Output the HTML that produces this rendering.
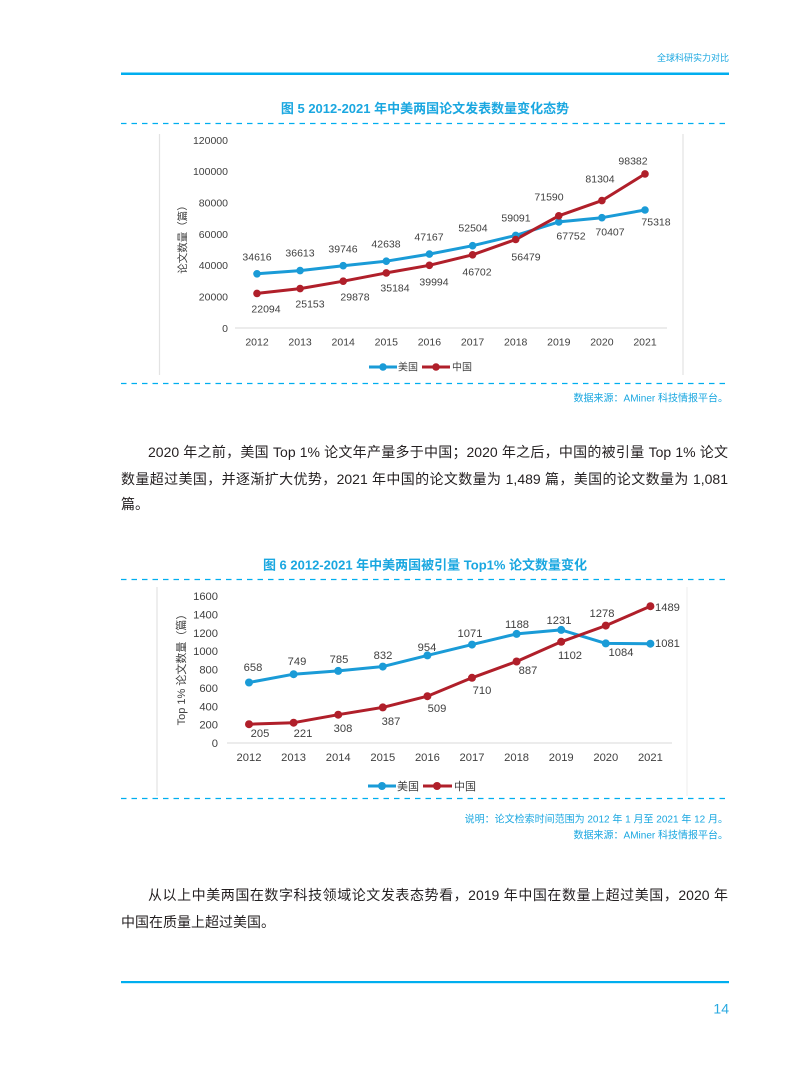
<!DOCTYPE html>
<html><head><meta charset="utf-8">
<style>
html,body{margin:0;padding:0;background:#fff;}
body{width:793px;height:1077px;position:relative;overflow:hidden;font-family:"Liberation Sans","Noto Sans CJK SC",sans-serif;}
.p{position:absolute;left:121px;width:607px;font-size:14px;line-height:27px;color:#231f20;text-align:justify;text-align-last:justify;white-space:nowrap;}
.p.ind{left:148px;width:580px;}
.p.l{text-align:left;text-align-last:left;}
svg{position:absolute;left:0;top:0;}
svg text{font-family:"Liberation Sans","Noto Sans CJK SC",sans-serif;}
</style></head><body>
<svg width="793" height="1077" viewBox="0 0 793 1077">
<!-- header -->
<text x="729" y="61" font-size="9" fill="#1aa7e0" text-anchor="end">全球科研实力对比</text>
<rect x="121" y="72.5" width="608" height="2.5" fill="#00aeef"/>

<!-- ===== Chart 1 ===== -->
<text x="425" y="113" font-size="13" font-weight="bold" fill="#1aa7e0" text-anchor="middle">图 5 2012-2021 年中美两国论文发表数量变化态势</text>
<line x1="121" y1="123.5" x2="729" y2="123.5" stroke="#00aeef" stroke-width="1.3" stroke-dasharray="5.5 5"/>
<line x1="159.5" y1="134" x2="159.5" y2="375" stroke="#e3e3e3" stroke-width="1.2"/>
<line x1="683" y1="134" x2="683" y2="375" stroke="#e3e3e3" stroke-width="1.2"/>
<line x1="235" y1="328" x2="667" y2="328" stroke="#d9d9d9" stroke-width="1"/>
<g font-size="10.5" fill="#404040" text-anchor="end">
<text x="228" y="331.8">0</text>
<text x="228" y="300.5">20000</text>
<text x="228" y="269.1">40000</text>
<text x="228" y="237.8">60000</text>
<text x="228" y="206.5">80000</text>
<text x="228" y="175.1">100000</text>
<text x="228" y="143.8">120000</text>
</g>
<text transform="translate(186,237) rotate(-90)" font-size="10.5" fill="#404040" text-anchor="middle">论文数量（篇）</text>
<g font-size="10.5" fill="#404040" text-anchor="middle">
<text x="257" y="345.7">2012</text>
<text x="300.1" y="345.7">2013</text>
<text x="343.2" y="345.7">2014</text>
<text x="386.3" y="345.7">2015</text>
<text x="429.4" y="345.7">2016</text>
<text x="472.6" y="345.7">2017</text>
<text x="515.7" y="345.7">2018</text>
<text x="558.8" y="345.7">2019</text>
<text x="601.9" y="345.7">2020</text>
<text x="645" y="345.7">2021</text>
</g>
<polyline fill="none" stroke="#1a9bd7" stroke-width="3" stroke-linejoin="round" points="257,273.8 300.1,270.6 343.2,265.7 386.3,261.2 429.4,254.1 472.6,245.7 515.7,235.4 558.8,221.9 601.9,217.7 645,210"/>
<polyline fill="none" stroke="#b01f2a" stroke-width="3" stroke-linejoin="round" points="257,293.4 300.1,288.6 343.2,281.2 386.3,272.9 429.4,265.3 472.6,254.8 515.7,239.5 558.8,215.8 601.9,200.6 645,173.9"/>
<g fill="#1a9bd7">
<circle cx="257" cy="273.8" r="3.8"/><circle cx="300.1" cy="270.6" r="3.8"/><circle cx="343.2" cy="265.7" r="3.8"/><circle cx="386.3" cy="261.2" r="3.8"/><circle cx="429.4" cy="254.1" r="3.8"/><circle cx="472.6" cy="245.7" r="3.8"/><circle cx="515.7" cy="235.4" r="3.8"/><circle cx="558.8" cy="221.9" r="3.8"/><circle cx="601.9" cy="217.7" r="3.8"/><circle cx="645" cy="210" r="3.8"/>
</g>
<g fill="#b01f2a">
<circle cx="257" cy="293.4" r="3.8"/><circle cx="300.1" cy="288.6" r="3.8"/><circle cx="343.2" cy="281.2" r="3.8"/><circle cx="386.3" cy="272.9" r="3.8"/><circle cx="429.4" cy="265.3" r="3.8"/><circle cx="472.6" cy="254.8" r="3.8"/><circle cx="515.7" cy="239.5" r="3.8"/><circle cx="558.8" cy="215.8" r="3.8"/><circle cx="601.9" cy="200.6" r="3.8"/><circle cx="645" cy="173.9" r="3.8"/>
</g>
<g font-size="10.5" fill="#404040" text-anchor="middle">
<text x="257" y="260.7">34616</text>
<text x="300" y="256.7">36613</text>
<text x="343" y="252.7">39746</text>
<text x="386" y="247.7">42638</text>
<text x="429" y="240.7">47167</text>
<text x="473" y="231.7">52504</text>
<text x="516" y="221.7">59091</text>
<text x="571" y="239.7">67752</text>
<text x="610" y="235.7">70407</text>
<text x="656" y="225.7">75318</text>
<text x="266" y="312.7">22094</text>
<text x="310" y="307.7">25153</text>
<text x="355" y="300.7">29878</text>
<text x="395" y="291.7">35184</text>
<text x="434" y="285.7">39994</text>
<text x="477" y="275.7">46702</text>
<text x="526" y="260.7">56479</text>
<text x="549" y="200.7">71590</text>
<text x="600" y="182.7">81304</text>
<text x="633" y="164.7">98382</text>
</g>
<!-- legend 1 -->
<line x1="369" y1="367" x2="397" y2="367" stroke="#1a9bd7" stroke-width="3"/>
<circle cx="383" cy="367" r="3.8" fill="#1a9bd7"/>
<text x="398" y="370.7" font-size="10" fill="#404040">美国</text>
<line x1="422" y1="367" x2="450" y2="367" stroke="#b01f2a" stroke-width="3"/>
<circle cx="436" cy="367" r="3.8" fill="#b01f2a"/>
<text x="452" y="370.7" font-size="10" fill="#404040">中国</text>
<line x1="121" y1="383.5" x2="729" y2="383.5" stroke="#00aeef" stroke-width="1.3" stroke-dasharray="5.5 5"/>
<text x="728" y="401.5" font-size="10" fill="#1aa7e0" text-anchor="end">数据来源：AMiner 科技情报平台。</text>

<!-- ===== Chart 2 ===== -->
<text x="425" y="569.5" font-size="13" font-weight="bold" fill="#1aa7e0" text-anchor="middle">图 6 2012-2021 年中美两国被引量 Top1% 论文数量变化</text>
<line x1="121" y1="579.5" x2="729" y2="579.5" stroke="#00aeef" stroke-width="1.3" stroke-dasharray="5.5 5"/>
<line x1="157" y1="587" x2="157" y2="796" stroke="#e3e3e3" stroke-width="1.2"/>
<line x1="687" y1="587" x2="687" y2="796" stroke="#ececec" stroke-width="1"/>
<line x1="227" y1="743" x2="672" y2="743" stroke="#d9d9d9" stroke-width="1"/>
<g font-size="11.2" fill="#404040" text-anchor="end">
<text x="218" y="747">0</text>
<text x="218" y="728.6">200</text>
<text x="218" y="710.3">400</text>
<text x="218" y="691.9">600</text>
<text x="218" y="673.5">800</text>
<text x="218" y="655.1">1000</text>
<text x="218" y="636.8">1200</text>
<text x="218" y="618.4">1400</text>
<text x="218" y="600">1600</text>
</g>
<text transform="translate(185,667) rotate(-90)" font-size="11" fill="#404040" text-anchor="middle">Top 1% 论文数量（篇）</text>
<g font-size="11.2" fill="#404040" text-anchor="middle">
<text x="249" y="761">2012</text>
<text x="293.6" y="761">2013</text>
<text x="338.2" y="761">2014</text>
<text x="382.8" y="761">2015</text>
<text x="427.4" y="761">2016</text>
<text x="472" y="761">2017</text>
<text x="516.6" y="761">2018</text>
<text x="561.2" y="761">2019</text>
<text x="605.8" y="761">2020</text>
<text x="650.4" y="761">2021</text>
</g>
<polyline fill="none" stroke="#1a9bd7" stroke-width="3" stroke-linejoin="round" points="249,682.5 293.6,674.2 338.2,670.9 382.8,666.6 427.4,655.4 472,644.6 516.6,633.9 561.2,629.9 605.8,643.4 650.4,643.7"/>
<polyline fill="none" stroke="#b01f2a" stroke-width="3" stroke-linejoin="round" points="249,724.2 293.6,722.7 338.2,714.7 382.8,707.4 427.4,696.2 472,677.8 516.6,661.5 561.2,641.8 605.8,625.6 650.4,606.2"/>
<g fill="#1a9bd7">
<circle cx="249" cy="682.5" r="4"/><circle cx="293.6" cy="674.2" r="4"/><circle cx="338.2" cy="670.9" r="4"/><circle cx="382.8" cy="666.6" r="4"/><circle cx="427.4" cy="655.4" r="4"/><circle cx="472" cy="644.6" r="4"/><circle cx="516.6" cy="633.9" r="4"/><circle cx="561.2" cy="629.9" r="4"/><circle cx="605.8" cy="643.4" r="4"/><circle cx="650.4" cy="643.7" r="4"/>
</g>
<g fill="#b01f2a">
<circle cx="249" cy="724.2" r="4"/><circle cx="293.6" cy="722.7" r="4"/><circle cx="338.2" cy="714.7" r="4"/><circle cx="382.8" cy="707.4" r="4"/><circle cx="427.4" cy="696.2" r="4"/><circle cx="472" cy="677.8" r="4"/><circle cx="516.6" cy="661.5" r="4"/><circle cx="561.2" cy="641.8" r="4"/><circle cx="605.8" cy="625.6" r="4"/><circle cx="650.4" cy="606.2" r="4"/>
</g>
<g font-size="11.2" fill="#404040" text-anchor="middle">
<text x="253" y="671">658</text>
<text x="297" y="665">749</text>
<text x="339" y="663">785</text>
<text x="383" y="659">832</text>
<text x="427" y="651">954</text>
<text x="470" y="637">1071</text>
<text x="517" y="628">1188</text>
<text x="559" y="624">1231</text>
<text x="621" y="656">1084</text>
<text x="260" y="737">205</text>
<text x="303" y="737">221</text>
<text x="343" y="732">308</text>
<text x="391" y="725">387</text>
<text x="437" y="712">509</text>
<text x="482" y="694">710</text>
<text x="528" y="674">887</text>
<text x="570" y="659">1102</text>
<text x="602" y="617">1278</text>
</g>
<g font-size="11.2" fill="#404040" text-anchor="start">
<text x="655" y="647">1081</text>
<text x="655" y="611">1489</text>
</g>
<!-- legend 2 -->
<line x1="368" y1="786" x2="396" y2="786" stroke="#1a9bd7" stroke-width="3"/>
<circle cx="382" cy="786" r="4" fill="#1a9bd7"/>
<text x="397" y="790" font-size="11" fill="#404040">美国</text>
<line x1="423" y1="786" x2="452" y2="786" stroke="#b01f2a" stroke-width="3"/>
<circle cx="437" cy="786" r="4" fill="#b01f2a"/>
<text x="454" y="790" font-size="11" fill="#404040">中国</text>
<line x1="121" y1="798.5" x2="729" y2="798.5" stroke="#00aeef" stroke-width="1.3" stroke-dasharray="5.5 5"/>
<text x="728" y="822.5" font-size="10" fill="#1aa7e0" text-anchor="end">说明：论文检索时间范围为 2012 年 1 月至 2021 年 12 月。</text>
<text x="728" y="838.5" font-size="10" fill="#1aa7e0" text-anchor="end">数据来源：AMiner 科技情报平台。</text>

<!-- footer -->
<rect x="121" y="981" width="608" height="2.2" fill="#00aeef"/>
<text x="729" y="1013.5" font-size="14" fill="#29a9e0" text-anchor="end">14</text>
</svg>

<div class="p ind" style="top:438.5px;">2020 年之前，美国 Top 1% 论文年产量多于中国；2020 年之后，中国的被引量 Top 1% 论文</div>
<div class="p" style="top:465.5px;">数量超过美国，并逐渐扩大优势，2021 年中国的论文数量为 1,489 篇，美国的论文数量为 1,081</div>
<div class="p l" style="top:491px;">篇。</div>

<div class="p ind" style="top:881.5px;">从以上中美两国在数字科技领域论文发表态势看，2019 年中国在数量上超过美国，2020 年</div>
<div class="p l" style="top:908.5px;">中国在质量上超过美国。</div>
</body></html>
